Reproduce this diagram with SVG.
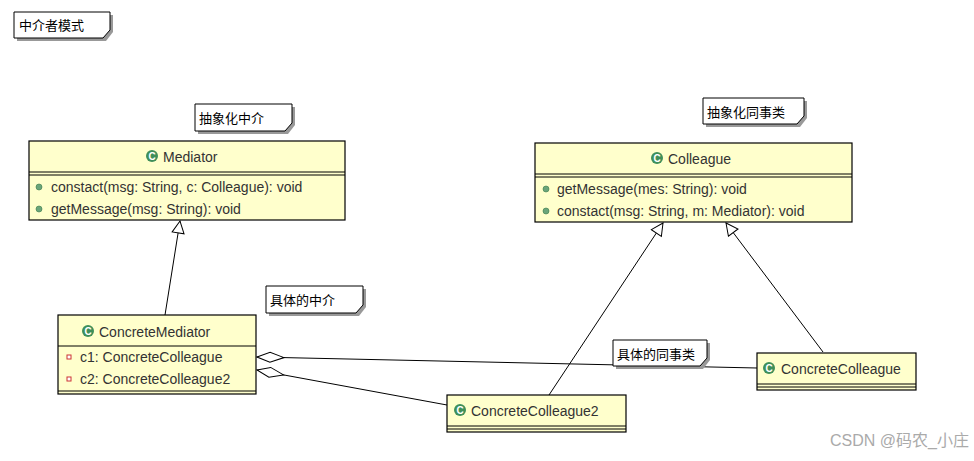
<svg xmlns="http://www.w3.org/2000/svg" width="974" height="461" viewBox="0 0 974 461">
<defs>
<style>
.cls{fill:#ffffcc;stroke:#000;stroke-width:1.2}
.ln{stroke:#000;stroke-width:1;fill:none}
.t{font-family:"Liberation Sans","Noto Sans CJK SC",sans-serif;font-size:14px;fill:#333}
.n{font-family:"Noto Sans CJK SC","Liberation Sans",sans-serif;font-size:13px;fill:#000}
.note{fill:#fff;stroke:#000;stroke-width:1}
.sh{fill:#999}
.ic{fill:#3f8f5a}
.dot{fill:#6aa57a;stroke:#3a7a4c;stroke-width:0.6}
.pr{fill:#fff;stroke:#c33;stroke-width:1}
</style>
<marker id="tri" markerWidth="14" markerHeight="14" refX="13" refY="7" orient="auto" markerUnits="userSpaceOnUse">
<path d="M1,1 L13,7 L1,13 Z" fill="#fff" stroke="#000"/>
</marker>
<marker id="dia" markerWidth="30" markerHeight="14" refX="1" refY="7" orient="auto" markerUnits="userSpaceOnUse">
<path d="M1,7 L14,2 L28,7 L14,12 Z" fill="#fff" stroke="#000"/>
</marker>
<g id="cicon"><circle r="6" class="ic"/><text x="0" y="4" text-anchor="middle" font-family="Liberation Sans,sans-serif" font-size="10" font-weight="bold" fill="#fff">C</text></g>
</defs>
<rect width="974" height="461" fill="#fff"/>

<g id="connectors">
<path class="ln" d="M165,315 L180,221" marker-end="url(#tri)"/>
<path class="ln" d="M549,395 L663,223" marker-end="url(#tri)"/>
<path class="ln" d="M823,352 L726,223" marker-end="url(#tri)"/>
<path class="ln" d="M257,357 L757,368" marker-start="url(#dia)"/>
<path class="ln" d="M257,370 L447,405" marker-start="url(#dia)"/>
</g>

<g id="note-title">
<path class="sh" d="M17,15 H113 V32 L106,41 H17 Z"/>
<path class="note" d="M14,12 H110 V30 L103,38 H14 Z"/>
<text class="n" x="19" y="30">中介者模式</text>
</g>
<g id="note-mediator">
<path class="sh" d="M198,107 H295 V125 L288,134 H198 Z"/>
<path class="note" d="M195,104 H292 V123 L285,131 H195 Z"/>
<text class="n" x="199" y="123">抽象化中介</text>
</g>
<g id="note-colleague">
<path class="sh" d="M706,101 H807 V118 L800,127 H706 Z"/>
<path class="note" d="M703,98 H804 V116 L797,124 H703 Z"/>
<text class="n" x="707" y="117">抽象化同事类</text>
</g>
<g id="note-cm">
<path class="sh" d="M269,289 H366 V307 L359,316 H269 Z"/>
<path class="note" d="M266,286 H363 V305 L356,313 H266 Z"/>
<text class="n" x="270" y="305">具体的中介</text>
</g>
<g id="note-cc">
<path class="sh" d="M616,343 H710 V360 L703,369 H616 Z"/>
<path class="note" d="M613,340 H707 V358 L700,366 H613 Z"/>
<text class="n" x="617" y="359">具体的同事类</text>
</g>

<g id="Mediator">
<rect class="cls" x="29" y="141" width="316" height="79"/>
<path class="ln" d="M29,172 H345 M29,175 H345"/>
<use href="#cicon" x="152" y="156"/>
<text class="t" x="163" y="162">Mediator</text>
<circle class="dot" cx="39" cy="187" r="3"/>
<text class="t" x="51" y="192">constact(msg: String, c: Colleague): void</text>
<circle class="dot" cx="39" cy="209" r="3"/>
<text class="t" x="51" y="214">getMessage(msg: String): void</text>
</g>

<g id="Colleague">
<rect class="cls" x="535" y="143" width="317" height="79"/>
<path class="ln" d="M535,174 H852 M535,177 H852"/>
<use href="#cicon" x="657" y="158"/>
<text class="t" x="668" y="164">Colleague</text>
<circle class="dot" cx="546" cy="189" r="3"/>
<text class="t" x="557" y="194">getMessage(mes: String): void</text>
<circle class="dot" cx="546" cy="211" r="3"/>
<text class="t" x="557" y="216">constact(msg: String, m: Mediator): void</text>
</g>

<g id="ConcreteMediator">
<rect class="cls" x="58" y="315" width="198" height="79"/>
<path class="ln" d="M58,346 H256 M58,391 H256"/>
<use href="#cicon" x="88" y="331"/>
<text class="t" x="99" y="337">ConcreteMediator</text>
<rect class="pr" x="67" y="355" width="4" height="4"/>
<text class="t" x="80" y="362">c1: ConcreteColleague</text>
<rect class="pr" x="67" y="377" width="4" height="4"/>
<text class="t" x="80" y="384">c2: ConcreteColleague2</text>
</g>

<g id="ConcreteColleague">
<rect class="cls" x="757" y="353" width="159" height="37"/>
<path class="ln" d="M757,384 H916 M757,387 H916"/>
<use href="#cicon" x="769" y="368"/>
<text class="t" x="781" y="374">ConcreteColleague</text>
</g>

<g id="ConcreteColleague2">
<rect class="cls" x="447" y="395" width="179" height="37"/>
<path class="ln" d="M447,426 H626 M447,429 H626"/>
<use href="#cicon" x="460" y="410"/>
<text class="t" x="471" y="416">ConcreteColleague2</text>
</g>

<text x="830" y="446" font-family="Liberation Sans,'Noto Sans CJK SC',sans-serif" font-size="16" fill="#aaa">CSDN @码农_小庄</text>
</svg>
